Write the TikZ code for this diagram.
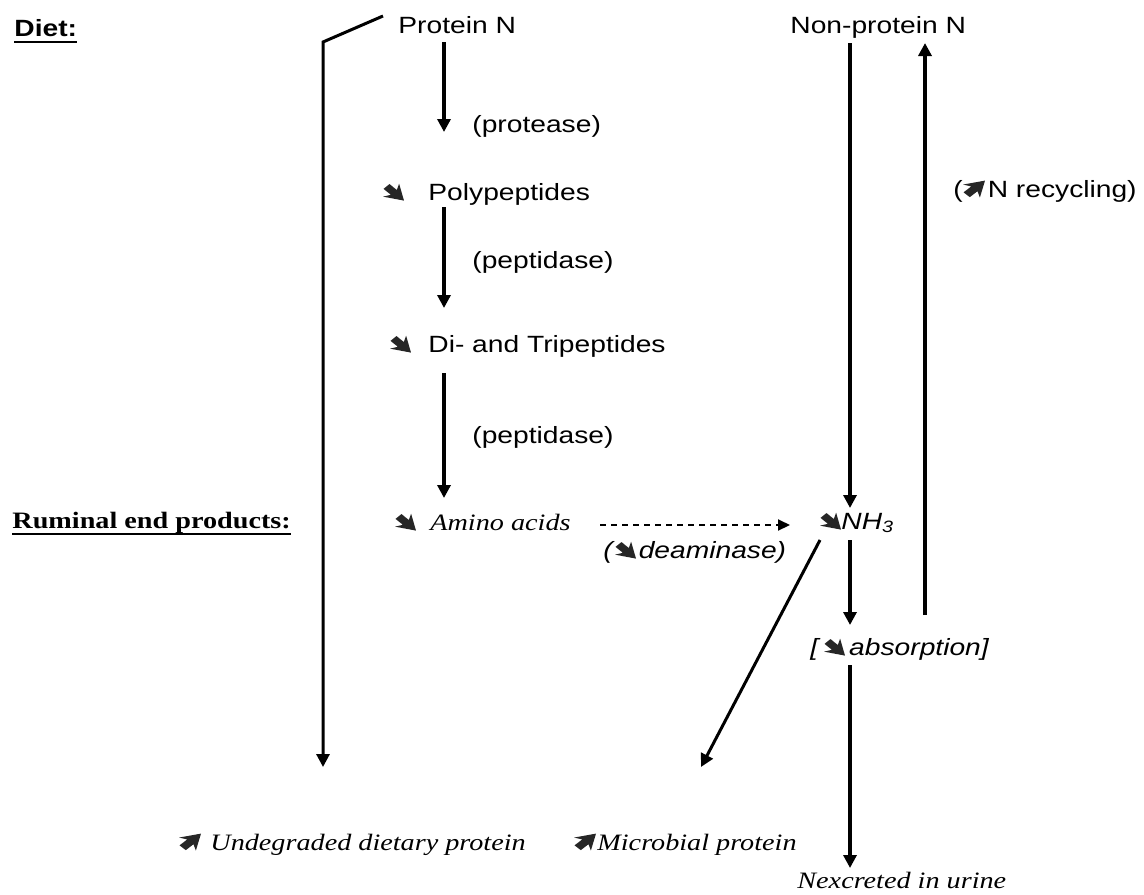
\documentclass[tikz,border=0pt]{standalone}
\usepackage{fontspec}
\usetikzlibrary{arrows.meta}
\newfontfamily\sansf{Liberation Sans}[FakeStretch=1.2]
\newfontfamily\serf{Liberation Serif}[FakeStretch=1.2]
\newcommand\fsz{\fontsize{11.75pt}{14pt}\selectfont}
\newcommand\gap[1]{\hspace*{#1}}
\tikzset{
  txt/.style={inner sep=0pt, anchor=base west, font=\fsz\sansf},
  itx/.style={inner sep=0pt, anchor=base west, font=\fsz\sansf\itshape},
  sit/.style={inner sep=0pt, anchor=base west, font=\fsz\serf\itshape},
  arr/.style={line width=2pt, -{Triangle[width=6.5pt,length=6.5pt]}},
  thinarr/.style={line width=1.5pt, -{Triangle[width=6.5pt,length=6.5pt]}},
  dasharr/.style={line width=1pt, dash pattern=on 3pt off 2.5pt, -{Triangle[width=5.5pt,length=6pt]}},
  uline/.style={line width=1.3pt},
  heavy/.style={fill=black!85},
  dnarrow/.pic={\fill[heavy,x=1pt,y=1pt] (3.236,8.273) -- (6.910,5.303) -- (8.047,8.485) -- (10.496,0) -- (0,1.980) -- (3.937,2.899) -- (0.262,5.869) -- cycle;},
  uparrow/.pic={\fill[heavy,x=1.048pt,y=1pt] (3.236,0.227) -- (6.910,3.197) -- (8.047,0.015) -- (10.496,8.5) -- (0,6.520) -- (3.937,5.601) -- (0.262,2.631) -- cycle;},
}
\begin{document}
\begin{tikzpicture}[x=0.5pt,y=-0.5pt]
\useasboundingbox (0,0) rectangle (1144,894);
% headings
\node[txt, font=\fsz\sansf\bfseries] (diet) at (14,36) {Diet:};
\draw[uline] ([yshift=-3pt]diet.base west) -- ([yshift=-3pt]diet.base east);
\node[txt, font=\fsz\serf\bfseries] (rum) at (12,528) {Ruminal end products:};
\draw[uline] ([yshift=-3pt]rum.base west) -- ([yshift=-3pt]rum.base east);
% left column
\node[txt] (protN) at (398,33) {Protein N};
\node[txt] (prot) at (472,132) {(protease)};
\node[txt] (poly) at (383,200) {\gap{22.5pt}Polypeptides};
\node[txt] (pep1) at (472,268) {(peptidase)};
\node[txt] (di) at (390,352) {\gap{19pt}Di- and Tripeptides};
\node[txt] (pep2) at (472,443) {(peptidase)};
\node[sit] (amino) at (395,530) {\gap{17.5pt}Amino acids};
\node[itx] (deam) at (603,558) {(\gap{13pt}deaminase)};
% right column
\node[txt] (npn) at (790,33) {Non-protein N};
\node[txt] (recyc) at (953,197) {(\gap{12.5pt}N recycling)};
\node[itx] (nh3) at (820,529) {\gap{10.5pt}NH\textsubscript{3}};
\node[itx] (abs) at (810,655) {[\gap{15.5pt}absorption]};
% bottom
\node[sit] (undeg) at (179,850) {\gap{15.5pt}Undegraded dietary protein};
\node[sit] (micro) at (574,850) {\gap{11.5pt}Microbial protein};
\node[sit] (urine) at (797,888) {Nexcreted in urine};
% heavy arrow symbols
\pic at ([yshift=-0.3pt]poly.base west) {dnarrow};
\pic at ([yshift=-0.3pt]di.base west) {dnarrow};
\pic at ([yshift=-0.3pt]amino.base west) {dnarrow};
\pic at ([yshift=-0.3pt]nh3.base west) {dnarrow};
\pic at ([xshift=6pt,yshift=-0.3pt]deam.base west) {dnarrow};
\pic at ([xshift=7pt,yshift=-0.3pt]abs.base west) {dnarrow};
\pic at ([xshift=5pt,yshift=-0.3pt]recyc.base west) {uparrow};
\pic at ([yshift=-0.3pt]undeg.base west) {uparrow};
\pic at ([yshift=-0.3pt]micro.base west) {uparrow};
% connector end points
\coordinate (l0) at (383,16);
\coordinate (l1) at (323,42);
\coordinate (l2) at (323,767);
\coordinate (a1s) at (444,42);  \coordinate (a1e) at (444,132);
\coordinate (a2s) at (444,207); \coordinate (a2e) at (444,308);
\coordinate (a3s) at (444,373); \coordinate (a3e) at (444,498);
\coordinate (ds) at (600,525);  \coordinate (de) at (790,525);
\coordinate (ns) at (850,43);   \coordinate (ne) at (850,508);
\coordinate (hs) at (850,540);  \coordinate (he) at (850,625);
\coordinate (rs) at (925,615);  \coordinate (re) at (925,43);
\coordinate (bs) at (850,665);  \coordinate (be) at (850,868);
\coordinate (ms) at (820,540);  \coordinate (me) at (701,767);
% connectors
\draw[thinarr, line join=miter] (l0) -- (l1) -- (l2);
\draw[arr] (a1s) -- (a1e);
\draw[arr] (a2s) -- (a2e);
\draw[arr] (a3s) -- (a3e);
\draw[dasharr] (ds) -- (de);
\draw[arr] (ns) -- (ne);
\draw[arr] (hs) -- (he);
\draw[arr] (rs) -- (re);
\draw[arr] (bs) -- (be);
\draw[thinarr] (ms) -- (me);
\end{tikzpicture}
\end{document}
